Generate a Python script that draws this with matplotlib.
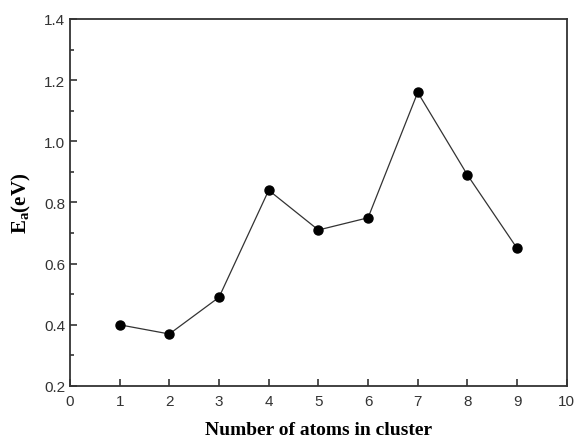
import matplotlib
matplotlib.use("Agg")
import matplotlib.pyplot as plt
from matplotlib.ticker import MultipleLocator

plt.rcParams['mathtext.fontset'] = 'custom'
plt.rcParams['mathtext.rm'] = 'Liberation Serif'
plt.rcParams['mathtext.bf'] = 'Liberation Serif:bold'

# cluster size vs activation energy
n_atoms = [1, 2, 3, 4, 5, 6, 7, 8, 9]
ea = [0.40, 0.37, 0.49, 0.84, 0.71, 0.75, 1.16, 0.89, 0.65]

fig = plt.figure(figsize=(5.76, 4.39), dpi=100)
ax = fig.add_axes([0.1215, 0.1185, 0.8625, 0.836])

ax.plot(n_atoms, ea, color='#333333', linewidth=0.9, marker='o',
        markersize=6.5, markerfacecolor='black', markeredgecolor='black')

ax.set_xlim(0, 10)
ax.set_ylim(0.2, 1.4)
ax.xaxis.set_major_locator(MultipleLocator(1))
ax.yaxis.set_major_locator(MultipleLocator(0.2))
ax.yaxis.set_minor_locator(MultipleLocator(0.1))
ax.yaxis.set_major_formatter(plt.FuncFormatter(lambda v, p: f"{v:.1f}"))

ax.tick_params(which='both', direction='in', top=False, right=False,
               colors='#333333', labelcolor='#333333', width=1.2)
ax.tick_params(which='major', length=5, labelsize=11)
ax.tick_params(axis='x', which='major', pad=6)
ax.tick_params(which='minor', length=3)
for lbl in ax.get_xticklabels() + ax.get_yticklabels():
    lbl.set_family('Liberation Sans')
for s in ax.spines.values():
    s.set_linewidth(1.3)
    s.set_color('#333333')

ax.set_xlabel('Number of atoms in cluster', fontfamily='Liberation Serif',
              fontweight='bold', fontsize=14, labelpad=9)
ax.set_ylabel(r'$\mathbf{E_a}$(eV)', fontfamily='Liberation Serif',
              fontweight='bold', fontsize=15, labelpad=8)

fig.savefig('out.png', dpi=100)
